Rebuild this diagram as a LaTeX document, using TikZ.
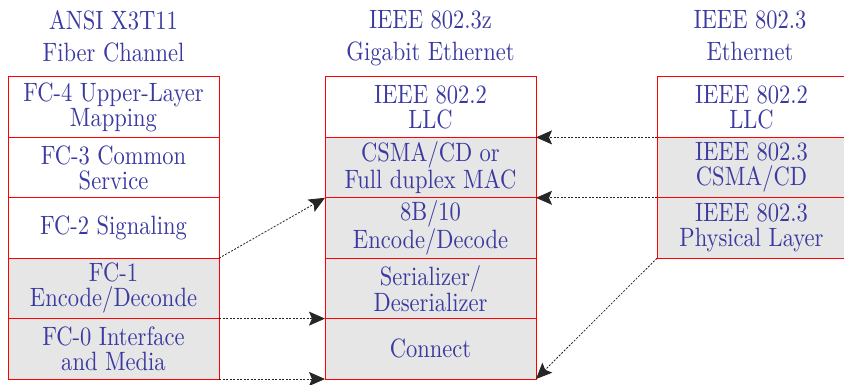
\documentclass[tikz,border=0pt]{standalone}
\usepackage{fontspec}
\newfontfamily\layerfont{lmroman10-regular}[Extension=.otf, FakeStretch=0.85]
\usetikzlibrary{arrows.meta}
\definecolor{labelblue}{RGB}{58,58,160}
\definecolor{cellgray}{RGB}{230,230,230}
\begin{document}
\begin{tikzpicture}[x=1pt,y=-1pt,
  layer/.style={draw=red, line width=1pt, minimum width=211pt, minimum height=60.4pt,
    inner sep=0pt, outer sep=0pt, align=center, text=labelblue,
    font=\layerfont\fontsize{26.5}{25}\selectfont},
  shaded/.style={layer, fill=cellgray},
  plain/.style={layer, fill=white},
  title/.style={anchor=north, inner sep=0pt, align=center, text=labelblue,
    font=\layerfont\fontsize{26.5}{32}\selectfont},
  link/.style={-{Stealth[length=16pt,width=14pt,inset=3pt]}, line width=0.8pt,
    dash pattern=on 2pt off 1.5pt, black!85}]
\useasboundingbox (0,0) rectangle (844,385);
\clip (0,0) rectangle (844,385);

% column titles
\node[title] (tfc)  at (113.5,10) {ANSI X3T11\\Fiber Channel};
\node[title] (tgbe) at (430.5,10) {IEEE 802.3z\\Gigabit Ethernet};
\node[title] (teth) at (750,10)   {IEEE 802.3\\Ethernet};

% Fiber Channel stack
\node[plain]  (fc4) at (113.5,107.2) {FC-4 Upper-Layer\\Mapping};
\node[plain]  (fc3) at (113.5,167.6) {FC-3 Common\\Service};
\node[plain]  (fc2) at (113.5,228.0) {FC-2 Signaling};
\node[shaded] (fc1) at (113.5,288.4) {FC-1\\Encode/Deconde};
\node[shaded] (fc0) at (113.5,348.8) {FC-0 Interface\\and Media};

% Gigabit Ethernet stack
\node[plain]  (gllc)  at (430.5,107.2) {IEEE 802.2\\LLC};
\node[shaded] (gmac)  at (430.5,167.6) {CSMA/CD or\\Full duplex MAC};
\node[shaded] (genc)  at (430.5,228.0) {8B/10\\Encode/Decode};
\node[shaded] (gser)  at (430.5,288.4) {Serializer/\\Deserializer};
\node[shaded] (gconn) at (430.5,348.8) {Connect};

% Ethernet stack
\node[plain, minimum width=189pt]  (ellc) at (751.5,107.2) {IEEE 802.2\\LLC};
\node[shaded, minimum width=189pt] (emac) at (751.5,167.6) {IEEE 802.3\\CSMA/CD};
\node[shaded, minimum width=189pt] (ephy) at (751.5,228.0) {IEEE 802.3\\Physical Layer};

% correspondences
\draw[link] (fc1.north east) -- (genc.north west);
\draw[link] (fc0.north east) -- (gconn.north west);
\draw[link] (fc0.south east) -- (gconn.south west);
\draw[link] (ellc.south west) -- (gllc.south east);
\draw[link] (emac.south west) -- (gmac.south east);
\draw[link] (ephy.south west) -- (gconn.south east);
\end{tikzpicture}
\end{document}
